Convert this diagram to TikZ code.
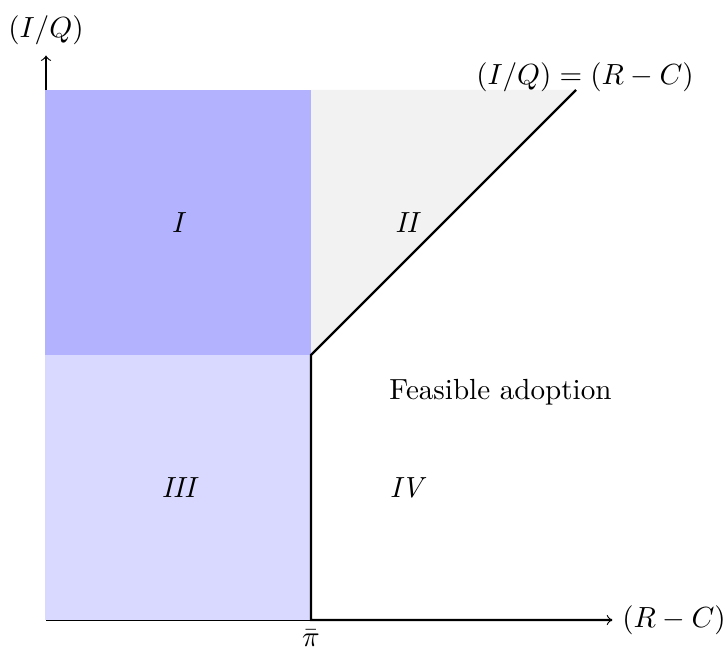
\documentclass[tikz,border=0pt]{standalone}
\begin{document}
\begin{tikzpicture}[x=3.2cm,y=3.2cm,
  axis/.style={->},
  bound/.style={thick},
  region/.style={font=\itshape}]
\useasboundingbox (-0.1736,-0.1057) rectangle (2.5698,2.3396);
% coordinates
\coordinate (O) at (0,0);
\coordinate (P) at (1,0);
\coordinate (K) at (1,1);
\coordinate (D) at (2,2);
\coordinate (XE) at (2.136,0);
\coordinate (YE) at (0,2.13);
% axes
\draw[axis] (O) -- (XE) node[right] (xl) {$(R-C)$};
\draw[axis] (O) -- (YE);
\node[above] (yl) at (YE) {$(I/Q)$};
% regions
\fill[blue!30] ([xshift=-0.3pt]0,1) rectangle (1,2);
\fill[blue!15] ([xshift=-0.3pt]0,0) rectangle (1,1);
\fill[gray!10] (K) -- (D) -- (1,2) -- cycle;
% boundary
\draw[bound] (XE) -- (P) -- (K) -- (D);
\node (dl) at (2.034,2.05) {$(I/Q)=(R-C)$};
\node[below] (pl) at (P) {$\bar\pi$};
% labels
\node[region] (r1) at (0.495,1.5) {I};
\node[region] (r2) at (1.36,1.5) {II};
\node[region] (r3) at (0.5,0.5) {III};
\node[region] (r4) at (1.36,0.5) {IV};
\node (fa) at (1.715,0.86) {Feasible adoption};
\end{tikzpicture}
\end{document}
